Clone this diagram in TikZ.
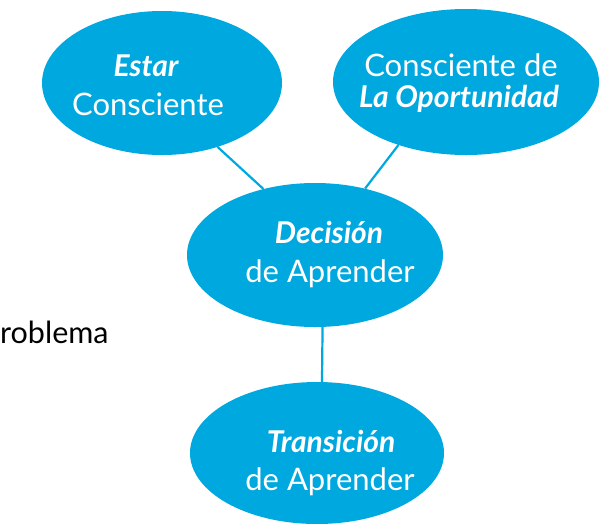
\documentclass[tikz,border=0pt]{standalone}
\usepackage{fontspec}
\setmainfont{Lato}
\usetikzlibrary{shapes.geometric}
\definecolor{skyb}{RGB}{0,168,224}
\tikzset{
  bubble/.style={ellipse, fill=skyb, draw=none, inner sep=0pt},
  btext/.style={anchor=base, inner sep=0pt, text=white, font=\fontsize{31}{37}\selectfont},
  bbold/.style={anchor=base, inner sep=0pt, text=white, font=\fontsize{30}{37}\selectfont\bfseries\itshape},
  link/.style={draw=skyb, line width=2.2pt}
}
\begin{document}
\begin{tikzpicture}[x=1pt,y=-1pt]
\useasboundingbox (0,0) rectangle (603,523);
\node[bubble, minimum width=240pt, minimum height=144pt] (estar) at (162,83) {};
\node[bubble, minimum width=266pt, minimum height=146pt] (oport) at (466,82) {};
\node[bubble, minimum width=256pt, minimum height=144pt] (decis) at (315,255) {};
\node[bubble, minimum width=254pt, minimum height=142pt] (trans) at (317,453) {};
\node[bbold] (estarA) at (146,76) {Estar};
\node[btext] (estarB) at (148,115) {Consciente};
\node[btext] (oportA) at (461,76) {Consciente de};
\node[bbold] (oportB) at (459,107) {La Oportunidad};
\node[bbold] (decisA) at (329,243) {Decisión};
\node[btext] (decisB) at (330,282) {de Aprender};
\node[bbold] (transA) at (331,452) {Transición};
\node[btext] (transB) at (330,490) {de Aprender};
\node[anchor=base west, inner sep=0pt, font=\fontsize{30.5}{34}\selectfont] (probl) at (0,343) {roblema};
\draw[link] (estar.-49) -- (decis.128);
\draw[link] (oport.223) -- (decis.53);
\draw[link] (decis.-84) -- (trans.86);
\end{tikzpicture}
\end{document}
